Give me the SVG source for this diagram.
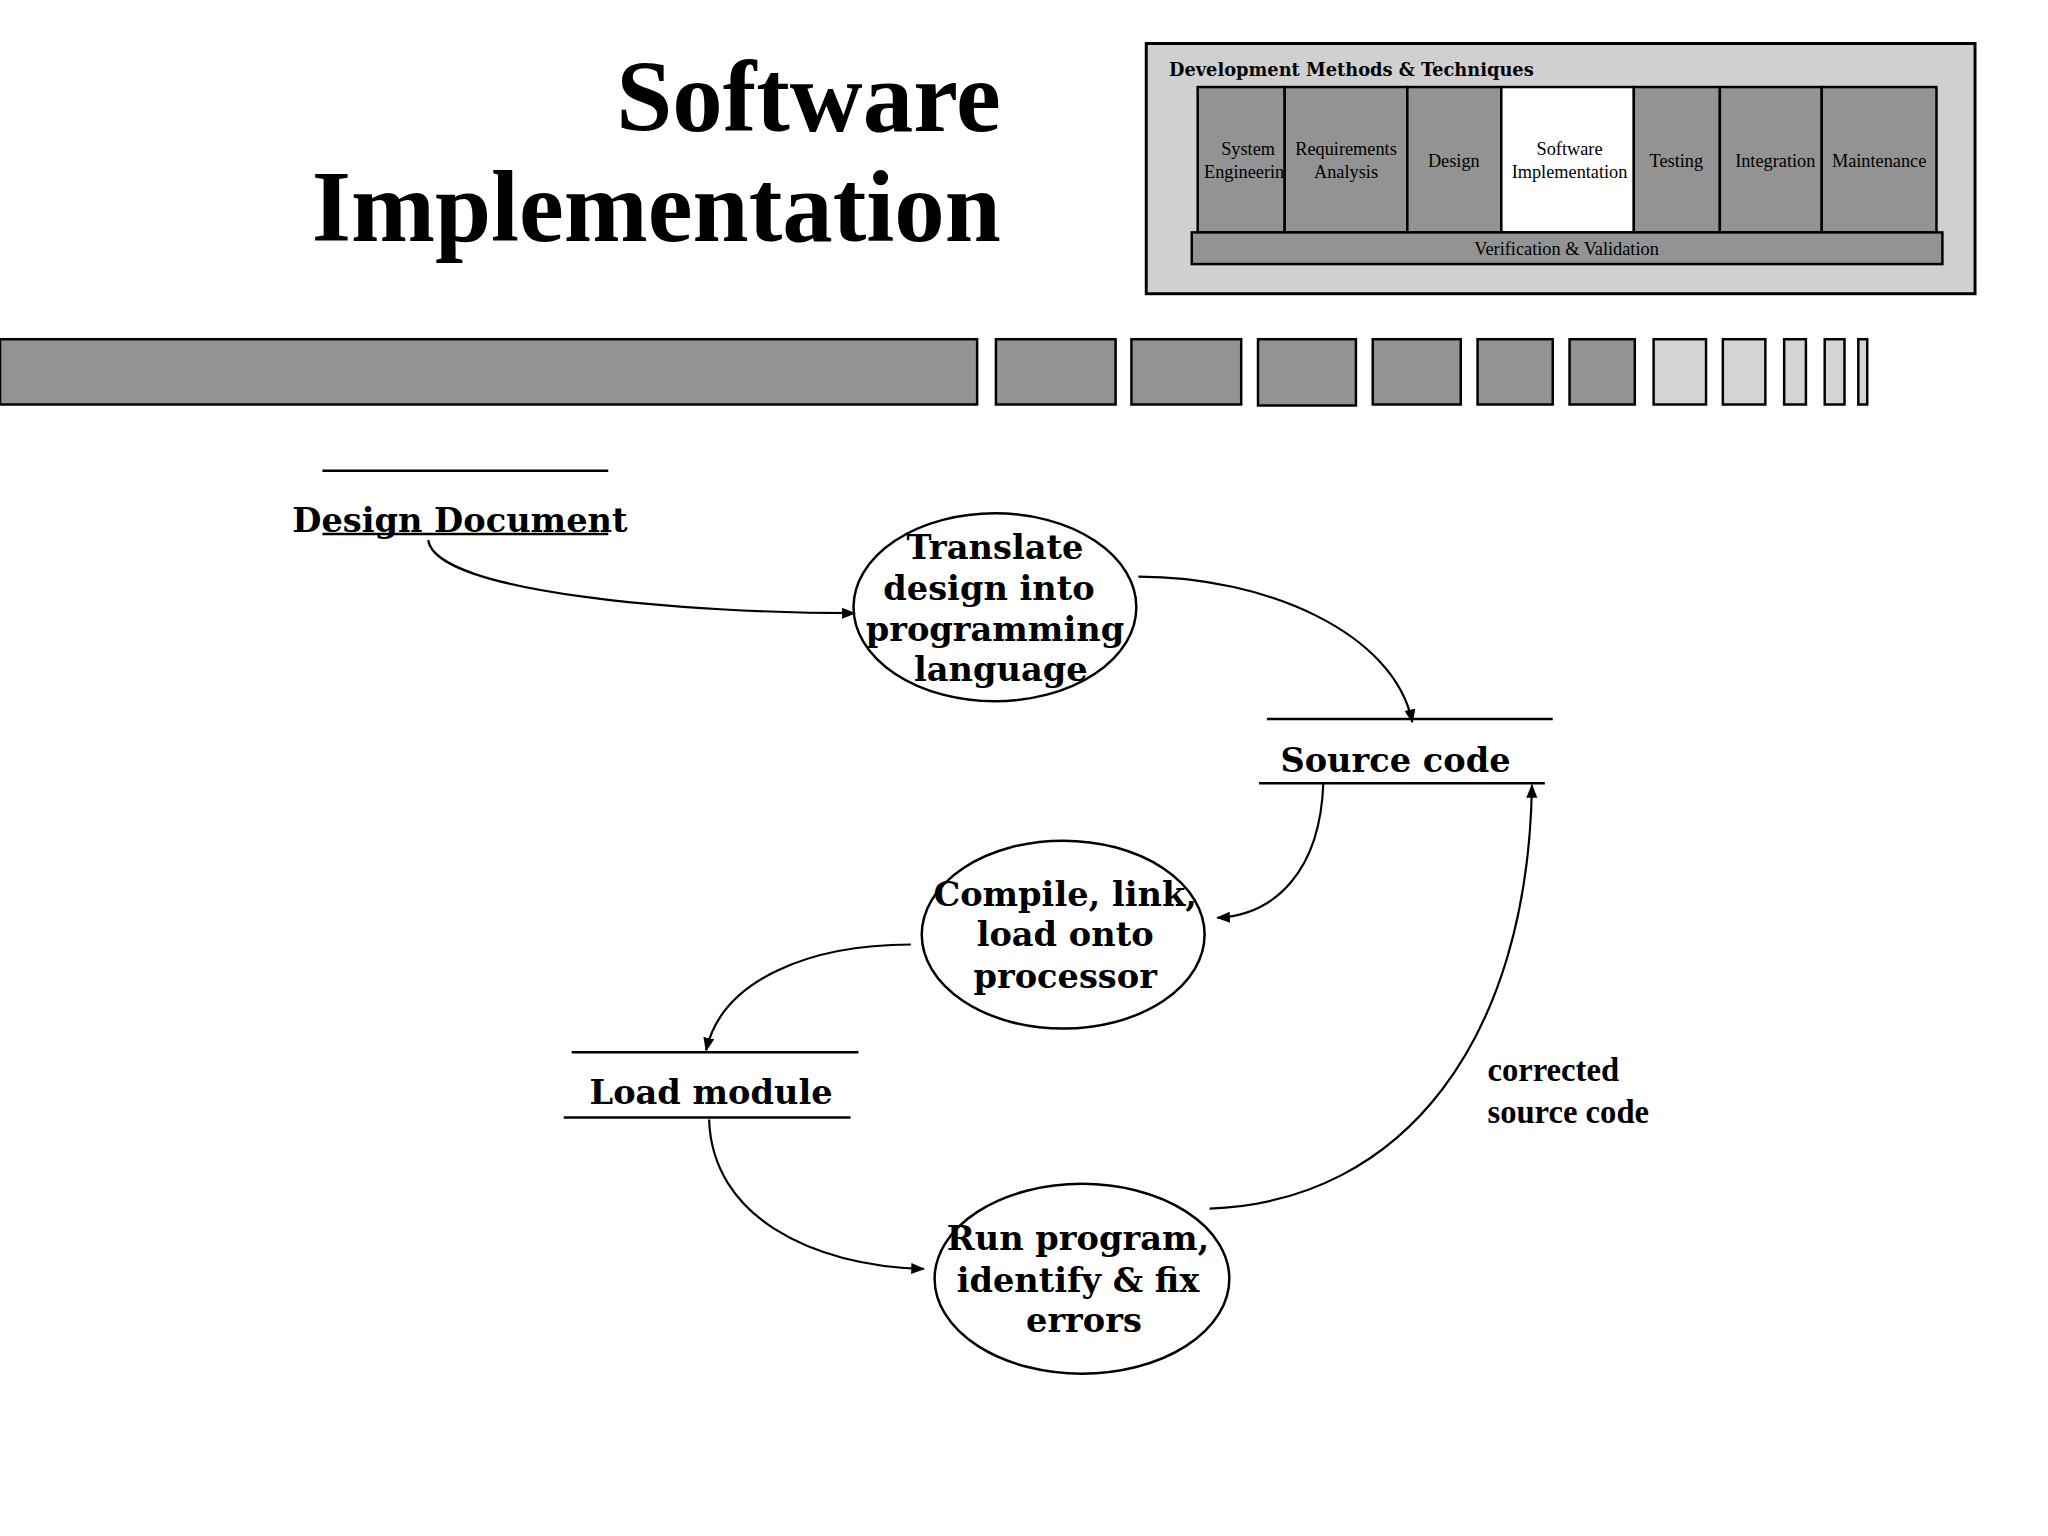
<svg xmlns="http://www.w3.org/2000/svg" width="2048" height="1536" viewBox="0 0 2048 1536">
<style>
.t{font-family:"Liberation Serif",serif;font-weight:bold;fill:#000}
.c{font-family:"Liberation Serif",serif;fill:#000;font-size:18.5px;text-anchor:middle}
.g{fill:#939393;stroke:#000;stroke-width:2.5}
.l{fill:#d4d4d4;stroke:#000;stroke-width:2.5}
.n{font-family:"DejaVu Serif",serif;font-weight:bold;font-size:34px;text-anchor:middle}
.e{fill:#fff;stroke:#000;stroke-width:2.5}
.ln{stroke:#000;stroke-width:2.5}
.k{fill:none;stroke:#000;stroke-width:2.2;marker-end:url(#a)}
</style>
<defs><marker id="a" viewBox="0 0 10 10" refX="9" refY="5" markerWidth="14" markerHeight="14" markerUnits="userSpaceOnUse" orient="auto"><path d="M0,1L10,5L0,9z"/></marker></defs>
<rect width="2048" height="1536" fill="#fff"/>
<g transform="scale(0.989)">
<text class="t" font-size="102" text-anchor="end" x="1012" y="132">Software</text>
<text class="t" font-size="102" text-anchor="end" x="1012" y="244">Implementation</text>
<g id="legend">
<rect x="1159" y="44" width="838" height="253" fill="#d0d0d0" stroke="#000" stroke-width="3"/>
<text font-family="DejaVu Serif,serif" font-weight="bold" font-size="18" x="1182" y="77">Development Methods &amp; Techniques</text>
<rect class="g" x="1211" y="88" width="88" height="147"/>
<rect class="g" x="1299" y="88" width="124" height="147"/>
<rect class="g" x="1423" y="88" width="95" height="147"/>
<rect x="1518" y="88" width="134" height="147" fill="#fff" stroke="#000" stroke-width="2.5"/>
<rect class="g" x="1652" y="88" width="87" height="147"/>
<rect class="g" x="1739" y="88" width="103" height="147"/>
<rect class="g" x="1842" y="88" width="116" height="147"/>
<rect class="g" x="1205" y="235" width="759" height="32"/>
<text class="c" x="1262" y="157">System</text><text class="c" x="1258" y="180">Engineerin</text>
<text class="c" x="1361" y="157">Requirements</text><text class="c" x="1361" y="180">Analysis</text>
<text class="c" x="1470" y="169">Design</text>
<text class="c" x="1587" y="157">Software</text><text class="c" x="1587" y="180">Implementation</text>
<text class="c" x="1695" y="169">Testing</text>
<text class="c" x="1795" y="169">Integration</text>
<text class="c" x="1900" y="169">Maintenance</text>
<text class="c" x="1584" y="258">Verification &amp; Validation</text>
</g>
<g id="bar">
<rect class="g" x="0" y="343" width="988" height="66"/>
<rect class="g" x="1007" y="343" width="121" height="66"/>
<rect class="g" x="1144" y="343" width="111" height="66"/>
<rect class="g" x="1272" y="343" width="99" height="67"/>
<rect class="g" x="1388" y="343" width="89" height="66"/>
<rect class="g" x="1494" y="343" width="76" height="66"/>
<rect class="g" x="1587" y="343" width="66" height="66"/>
<rect class="l" x="1672" y="343" width="53" height="66"/>
<rect class="l" x="1742" y="343" width="43" height="66"/>
<rect class="l" x="1804" y="343" width="22" height="66"/>
<rect class="l" x="1845" y="343" width="20" height="66"/>
<rect class="l" x="1879" y="343" width="9" height="66"/>
</g>
<g id="design-document">
<line class="ln" x1="326" y1="476" x2="615" y2="476"/>
<text class="n" x="465" y="538">Design Document</text>
<line class="ln" x1="326" y1="540" x2="615" y2="540"/>
</g>
<g id="translate">
<ellipse class="e" cx="1006" cy="614" rx="143" ry="95"/>
<text class="n" x="1006" y="565">Translate</text>
<text class="n" x="1000" y="607">design into</text>
<text class="n" x="1006" y="648">programming</text>
<text class="n" x="1012" y="689">language</text>
</g>
<g id="source-code">
<line class="ln" x1="1281" y1="727" x2="1570" y2="727"/>
<text class="n" x="1411" y="781">Source code</text>
<line class="ln" x1="1273" y1="792" x2="1562" y2="792"/>
</g>
<g id="compile">
<ellipse class="e" cx="1075" cy="945" rx="143" ry="95"/>
<text class="n" x="1077" y="916">Compile, link,</text>
<text class="n" x="1077" y="957">load onto</text>
<text class="n" x="1077" y="999">processor</text>
</g>
<g id="load-module">
<line class="ln" x1="578" y1="1064" x2="868" y2="1064"/>
<text class="n" x="719" y="1116">Load module</text>
<line class="ln" x1="570" y1="1130" x2="860" y2="1130"/>
</g>
<g id="run">
<ellipse class="e" cx="1094" cy="1293" rx="149" ry="96"/>
<text class="n" x="1090" y="1264">Run program,</text>
<text class="n" x="1090" y="1306">identify &amp; fix</text>
<text class="n" x="1096" y="1347">errors</text>
</g>
<text class="t" font-size="33" x="1504" y="1093">corrected</text>
<text class="t" font-size="33" x="1504" y="1135">source code</text>
<g id="connectors">
<path class="k" d="M433,546 C440,600 700,620 864,620"/>
<path class="k" d="M1151,583 C1280,583 1410,640 1428,730"/>
<path class="k" d="M1338,792 C1335,880 1290,925 1231,928"/>
<path class="k" d="M921,955 C820,955 730,990 714,1062"/>
<path class="k" d="M717,1132 C720,1230 820,1280 934,1283"/>
<path class="k" d="M1223,1222 C1420,1215 1545,1050 1549,794"/>
</g>
</g>
</svg>
